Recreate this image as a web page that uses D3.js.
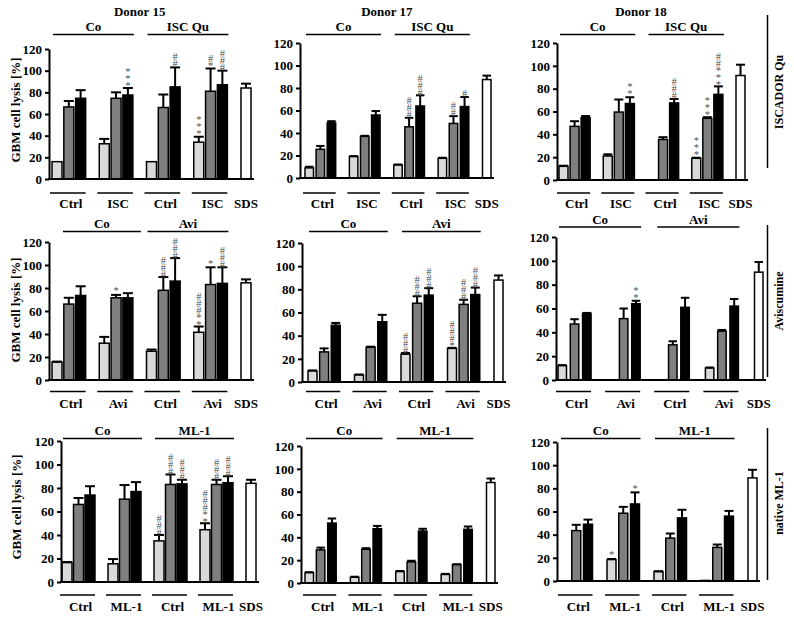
<!DOCTYPE html>
<html>
<head>
<meta charset="utf-8">
<script src="https://cdn.jsdelivr.net/npm/d3@7"></script>
<style>
  body { margin: 0; background: #fff; }
  svg { display: block; }
  text { font-family: 'Liberation Serif', 'Times New Roman', serif; font-weight: bold; }
  .tick text { font-size: 13px; }
  .sig {
    font-weight: normal; font-size: 10.5px; fill: #505050;
    writing-mode: vertical-rl; text-orientation: upright; letter-spacing: -4px;
  }
</style>
</head>
<body>
<div id="chart"></div>
<script>
const donors = ['Donor 15', 'Donor 17', 'Donor 18'];
const treatments = [['Co', 'ISC Qu'], ['Co', 'Avi'], ['Co', 'ML-1']];
const groupLabels = [
  ['Ctrl', 'ISC', 'Ctrl', 'ISC'],
  ['Ctrl', 'Avi', 'Ctrl', 'Avi'],
  ['Ctrl', 'ML-1', 'Ctrl', 'ML-1']
];
const rowTitles = ['ISCADOR Qu', 'Aviscumine', 'native ML-1'];
const yTicks = [0, 20, 40, 60, 80, 100, 120];

// one entry per panel (row by row), four groups each: Ctrl/treated x Co/treated
const lightMean = [
  [16, 32.5, 16, 34], [9, 19, 11.5, 17.5], [12, 21, null, 19],
  [15.5, 32, 25, 41.5], [9.5, 6, 24, 29], [12, null, null, 10],
  [16.5, 15.5, 35, 44.5], [9, 5, 10, 7.5], [null, 18.5, 8, 0.5]
];
const lightSd = [
  [0, 4.5, 0, 5], [1, 0.5, 0.5, 0.5], [0.5, 1.5, 0, 0.5],
  [0.5, 5.5, 1.5, 5], [0.5, 0.5, 1, 0.5], [0.5, 0, 0, 0.5],
  [0.5, 4, 5, 5.5], [0.5, 0.5, 0.5, 0.5], [0, 0.5, 0.5, 0]
];
const grayMean = [
  [66.5, 74.5, 66, 81], [25.5, 37, 45.5, 48.5], [47, 59.5, 35.5, 54],
  [66, 71.5, 78, 83], [26, 30, 68, 67], [47, 51.5, 29.5, 41],
  [66, 70.5, 83, 83], [29, 29.5, 18.5, 16], [43.5, 58.5, 37, 29]
];
const graySd = [
  [5.5, 5.5, 12, 21], [3, 0.5, 8, 6.5], [4.5, 11, 2, 1],
  [5.5, 2.5, 11.5, 15], [3, 0.5, 6, 4], [4, 8.5, 3, 1],
  [5.5, 12, 8.5, 4], [2, 1, 1, 0.5], [5, 5.5, 4, 2.5]
];
const blackMean = [
  [74.5, 77.5, 85, 87], [49, 56, 64, 63.5], [54.5, 67, 67.5, 75],
  [73.5, 71.5, 86, 84], [49, 52, 75, 75.5], [56, 64, 61, 62],
  [74, 77, 83.5, 84.5], [52.5, 47.5, 45.5, 47], [49, 66.5, 54.5, 56]
];
const blackSd = [
  [7.5, 6.5, 18, 13], [1.5, 3.5, 9.5, 8.5], [1.5, 5.5, 3.5, 7],
  [8, 4, 20, 14], [2, 6, 6, 6], [0.3, 2.5, 8, 6],
  [7.5, 8, 3.5, 5.5], [4, 2.5, 2, 2.5], [4, 10, 7, 4.5]
];
const sdsMean = [84, 87.5, 91.5, 84.5, 88, 90.5, 84, 88, 89];
const sdsSd = [4, 3.5, 9.5, 3, 4, 8.5, 3, 3.5, 7];

// [panel, group, series (0 light, 1 gray, 2 black), symbols top to bottom]
const marks = [
  [0, 1, 2, '***'], [0, 2, 2, '##'], [0, 3, 0, '***'], [0, 3, 1, '#*'], [0, 3, 2, '###'],
  [1, 2, 1, '###'], [1, 2, 2, '###'], [1, 3, 1, '##'], [1, 3, 2, '#'],
  [2, 1, 2, '**'], [2, 2, 2, '###'], [2, 3, 0, '***'], [2, 3, 1, '***'], [2, 3, 2, '##***'],
  [3, 1, 1, '*'], [3, 2, 1, '###'], [3, 2, 2, '###'], [3, 3, 0, '###**'], [3, 3, 1, '*'], [3, 3, 2, '###'],
  [4, 2, 0, '###'], [4, 2, 1, '###'], [4, 2, 2, '###'], [4, 3, 0, '###*'], [4, 3, 1, '###'], [4, 3, 2, '###'],
  [5, 1, 2, '**'],
  [6, 2, 0, '###'], [6, 2, 1, '###'], [6, 2, 2, '###'], [6, 3, 0, '###**'], [6, 3, 1, '###'], [6, 3, 2, '###'],
  [8, 1, 0, '*'], [8, 1, 2, '*']
];

const fills = ['#d9d9d9', '#7f7f7f', '#000000'];

// panel geometry in page pixels
const layout = [
  {ax: 49, top: 49, bottom: 179, x0: 52, x1: 251, bw: 10},
  {ax: 300, top: 43, bottom: 178, x0: 305, x1: 491, bw: 8.5},
  {ax: 557, top: 43, bottom: 180, x0: 559, x1: 745, bw: 9},
  {ax: 49, top: 242, bottom: 380, x0: 52, x1: 251, bw: 10},
  {ax: 302, top: 243, bottom: 382, x0: 308, x1: 503, bw: 9},
  {ax: 556, top: 237, bottom: 380, x0: 558, x1: 763, bw: 8.5},
  {ax: 61, top: 441, bottom: 582, x0: 62, x1: 256, bw: 10},
  {ax: 301, top: 446, bottom: 583, x0: 305, x1: 495, bw: 8.5},
  {ax: 557, top: 442, bottom: 581, x0: 560, x1: 757, bw: 9}
];

const rowPos = [
  {title: 16, treat: 31, treatLine: 34.5, groupLine: 193, groupText: 208, yTitle: 110},
  {title: 0, treat: 228, treatLine: 231.5, groupLine: 391.5, groupText: 408, yTitle: 310},
  {title: 0, treat: 435, treatLine: 438.5, groupLine: 595, groupText: 611, yTitle: 507}
];
const sideLabel = [
  {y1: 15, y2: 168, cy: 92},
  {y1: 225, y2: 377, cy: 301},
  {y1: 428, y2: 580, cy: 503}
];

const svg = d3.select('#chart').append('svg')
  .attr('width', 794)
  .attr('height', 617);

function drawPanel(p) {
  let L = layout[p];
  let row = Math.floor(p / 3);
  let col = p % 3;
  let R = rowPos[row];
  let shift = p === 5 ? 4.5 : 0;

  let yScale = d3.scaleLinear().domain([0, 120]).range([L.bottom, L.top]);
  let xScale = d3.scaleLinear().domain([0, 16]).range([L.x0, L.x1 - L.bw]);

  let g = svg.append('g');

  // bars
  let bars = [];
  for (let gi = 0; gi < 4; gi++) {
    [[lightMean, lightSd], [grayMean, graySd], [blackMean, blackSd]].forEach((s, k) => {
      let v = s[0][p][gi];
      if (v !== null) {
        bars.push({slot: gi * 4 + k, value: v, sd: s[1][p][gi], fill: fills[k], group: gi, series: k});
      }
    });
  }
  bars.push({slot: 16, value: sdsMean[p], sd: sdsSd[p], fill: '#ffffff', group: 4, series: 3});

  // error bars first, bars painted over them
  bars.filter(d => d.sd > 0).forEach(d => {
    let cx = xScale(d.slot) + L.bw / 2;
    g.append('line')
      .attr('x1', cx).attr('x2', cx)
      .attr('y1', yScale(d.value)).attr('y2', yScale(d.value + d.sd))
      .attr('stroke', '#000').attr('stroke-width', 2);
    g.append('line')
      .attr('x1', cx - L.bw / 2).attr('x2', cx + L.bw / 2)
      .attr('y1', yScale(d.value + d.sd)).attr('y2', yScale(d.value + d.sd))
      .attr('stroke', '#000').attr('stroke-width', 2);
  });

  g.selectAll('rect.bar')
    .data(bars).enter()
    .append('rect')
      .attr('class', 'bar')
      .attr('x', d => xScale(d.slot))
      .attr('width', L.bw)
      .attr('y', d => yScale(d.value))
      .attr('height', d => yScale(0) - yScale(d.value))
      .attr('fill', d => d.fill)
      .attr('stroke', '#000')
      .attr('stroke-width', 1.5);

  // significance symbols, stacked as one vertical run
  marks.filter(m => m[0] === p).forEach(m => {
    let d = bars.find(b => b.group === m[1] && b.series === m[2]);
    let cx = xScale(d.slot) + L.bw / 2;
    let base = yScale(d.value + d.sd) - 3;
    g.append('text')
      .attr('class', 'sig')
      .attr('x', cx)
      .attr('y', base - m[3].length * 6.5)
      .text(m[3]);
  });

  // axes
  let yAxis = g.append('g')
    .attr('transform', 'translate(' + L.ax + ',0)')
    .call(d3.axisLeft(yScale).tickValues(yTicks).tickSize(4).tickSizeOuter(0).tickPadding(3));
  yAxis.select('.domain').attr('stroke-width', 2);
  yAxis.selectAll('.tick line').attr('stroke-width', 2);
  yAxis.selectAll('.tick text').attr('font-size', 13).attr('fill', '#000');

  g.append('line')
    .attr('x1', L.ax - 1).attr('x2', L.x1 + 3)
    .attr('y1', L.bottom).attr('y2', L.bottom)
    .attr('stroke', '#000').attr('stroke-width', 2);

  // group labels under the axis
  for (let gi = 0; gi < 4; gi++) {
    let a = xScale(gi * 4) - 2;
    let b = xScale(gi * 4 + 2) + L.bw;
    g.append('line')
      .attr('x1', a).attr('x2', b)
      .attr('y1', R.groupLine).attr('y2', R.groupLine)
      .attr('stroke', '#000').attr('stroke-width', 1.5);
    g.append('text')
      .attr('x', (a + b) / 2 + 3)
      .attr('y', R.groupText)
      .attr('text-anchor', 'middle')
      .attr('font-size', 13)
      .text(groupLabels[row][gi]);
  }
  g.append('text')
    .attr('x', xScale(16) + L.bw / 2)
    .attr('y', R.groupText)
    .attr('text-anchor', 'middle')
    .attr('font-size', 13)
    .text('SDS');

  // treatment labels over the bars
  [0, 1].forEach(t => {
    let a = xScale(t * 8) + 1 + (p === 3 && t === 0 ? 10 : 0);
    let b = xScale(t * 8 + 6) + L.bw + 1 + (p === 3 && t === 0 ? 7 : 0);
    g.append('line')
      .attr('x1', a).attr('x2', b)
      .attr('y1', R.treatLine - shift).attr('y2', R.treatLine - shift)
      .attr('stroke', '#000').attr('stroke-width', 1.5);
    g.append('text')
      .attr('x', (a + b) / 2)
      .attr('y', R.treat - shift)
      .attr('text-anchor', 'middle')
      .attr('font-size', 13)
      .text(treatments[row][t]);
  });

  if (row === 0) {
    g.append('text')
      .attr('x', (xScale(0) + xScale(14) + L.bw) / 2)
      .attr('y', R.title)
      .attr('text-anchor', 'middle')
      .attr('font-size', 13)
      .text(donors[col]);
  }

  if (col === 0) {
    g.append('text')
      .attr('transform', 'translate(' + (row === 2 ? 21 : 20) + ',' + R.yTitle + ') rotate(-90)')
      .attr('text-anchor', 'middle')
      .attr('font-size', 13)
      .text('GBM cell lysis [%]');
  }

  if (col === 2) {
    let S = sideLabel[row];
    g.append('line')
      .attr('x1', 767.5).attr('x2', 767.5)
      .attr('y1', S.y1).attr('y2', S.y2)
      .attr('stroke', '#000').attr('stroke-width', 1.5);
    g.append('text')
      .attr('transform', 'translate(783,' + S.cy + ') rotate(-90)')
      .attr('text-anchor', 'middle')
      .attr('font-size', 12)
      .text(rowTitles[row]);
  }
}

for (let p = 0; p < 9; p++) {
  drawPanel(p);
}
</script>
</body>
</html>
